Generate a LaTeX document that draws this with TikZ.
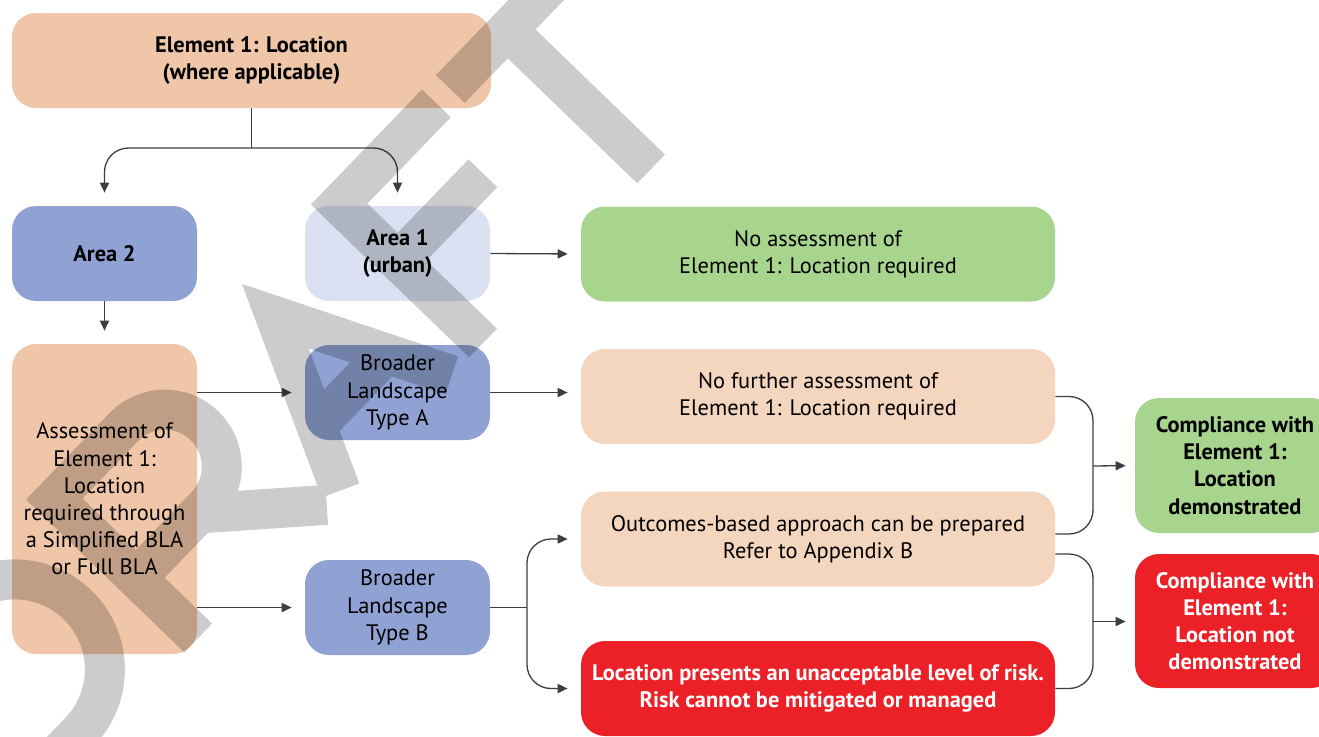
\documentclass[tikz,border=0pt]{standalone}
\usepackage{fontspec}
\setmainfont{PT Sans}
\usetikzlibrary{positioning,arrows.meta}

\definecolor{peachA}{HTML}{F0C6A8}
\definecolor{peachL}{HTML}{F4D5BE}
\definecolor{blueA}{HTML}{8FA2D3}
\definecolor{blueL}{HTML}{DBE1F3}
\definecolor{okgreen}{HTML}{A8D58E}
\definecolor{nored}{HTML}{EC2027}
\definecolor{linegray}{HTML}{3A3F44}

\newcommand{\boxfont}{\fontsize{11.2pt}{13.6pt}\selectfont}

\tikzset{
  box/.style={rounded corners=12pt, align=center, inner sep=0pt, font=\boxfont},
  boldbox/.style={box, font=\boxfont\bfseries},
  small/.style={minimum width=92.5pt, minimum height=47.5pt},
  wide/.style={minimum width=237pt, minimum height=47.5pt},
  link/.style={draw=linegray, line width=0.65pt},
  arr/.style={link, -{Triangle[length=5pt,width=4.6pt]}, shorten >=6.5pt},
}

\begin{document}
\begin{tikzpicture}[x=0.5pt,y=-0.5pt]
  \useasboundingbox (0,0) rectangle (1319,736);

  % boxes, left column
  \node[boldbox, fill=peachA, minimum width=239.5pt, minimum height=47.5pt] (loc) at (251.5,60.5)
    {Element 1: Location\\(where applicable)};
  \node[boldbox, small, fill=blueA] (area2) at (104.5,253.5) {Area 2};
  \node[boldbox, small, fill=blueL] (area1) at (397.5,253.5) {Area 1\\(urban)};
  \node[box, fill=peachA, minimum width=92.5pt, minimum height=155pt] (assess) at (104.5,499)
    {Assessment of\\Element 1:\\Location\\required through\\a Simplified BLA\\or Full BLA};
  \node[box, small, fill=blueA] (blaA) at (397.5,392.5) {Broader\\Landscape\\Type A};
  \node[box, small, fill=blueA] (blaB) at (397.5,607.5) {Broader\\Landscape\\Type B};

  % boxes, middle column
  \node[box, wide, fill=okgreen] (noass) at (818,254) {No assessment of\\Element 1: Location required};
  \node[box, wide, fill=peachL] (nofurther) at (818,396.5) {No further assessment of\\Element 1: Location required};
  \node[box, wide, fill=peachL] (outcomes) at (818,539) {Outcomes-based approach can be prepared\\Refer to Appendix B};
  \node[boldbox, wide, fill=nored, text=white] (risk) at (818,688.5)
    {Location presents an unacceptable level of risk.\\Risk cannot be mitigated or managed};

  % results
  \node[boldbox, fill=okgreen, minimum width=100pt, minimum height=67.5pt] (compY) at (1235,465.5)
    {Compliance with\\Element 1:\\Location\\demonstrated};
  \node[boldbox, fill=nored, text=white, minimum width=100pt, minimum height=67pt] (compN) at (1235,621)
    {Compliance with\\Element 1:\\Location not\\demonstrated};

  % connectors
  \coordinate (split) at (251.5,148);
  \draw[link] (loc.south) -- (split);
  \draw[arr, rounded corners=12pt] (split) -| (area2.north);
  \draw[arr, rounded corners=12pt] (split) -| (area1.north);
  \draw[arr] (area1.east) -- (noass.west);
  \draw[arr] (area2.south) -- (assess.north);
  \draw[arr] (assess.east |- blaA.west) -- (blaA.west);
  \draw[arr] (assess.east |- blaB.west) -- (blaB.west);
  \draw[arr] (blaA.east) -- (blaA.east -| nofurther.west);

  \coordinate (splitB) at (527,607.5);
  \draw[link] (blaB.east) -- (splitB);
  \draw[arr, rounded corners=12pt] (splitB) |- (outcomes.west);
  \draw[arr, rounded corners=12pt] (splitB) |- (risk.west);

  % brackets to the results
  \coordinate (brkY) at (1093,466);
  \coordinate (brkN) at (1093,621.5);
  \draw[link, rounded corners=12pt] (nofurther.east) -| (brkY) |- ([yshift=2.5pt]outcomes.east);
  \draw[link, rounded corners=12pt] ([yshift=-7.5pt]outcomes.east) -| (brkN) |- (risk.east);
  \draw[arr, shorten >=4.5pt] (brkY) -- (compY.west);
  \draw[arr, shorten >=4.5pt] (brkN) -- (brkN -| compN.west);

  % watermark
  \begin{scope}[shift={(483,343)}, x=0.5pt, y=0.5pt, rotate=46]
    \draw[black, draw opacity=0.2, line width=20pt]
      (-650,20) -- (-650,200) -- (-560,200) arc[start angle=90, end angle=-90, radius=90] -- cycle
      (-410,0) -- (-410,200) -- (-310,200) arc[start angle=90, end angle=-90, radius=57] -- (-410,86)
      (-320,86) -- (-225,0)
      (-205,0) -- (-125,168) -- (-45,0)
      (-170,62) -- (-80,62)
      (0,0) -- (0,200) -- (140,200)
      (20,118) -- (122,118)
      (160,200) -- (330,200)
      (242,200) -- (242,0);
  \end{scope}
\end{tikzpicture}
\end{document}
